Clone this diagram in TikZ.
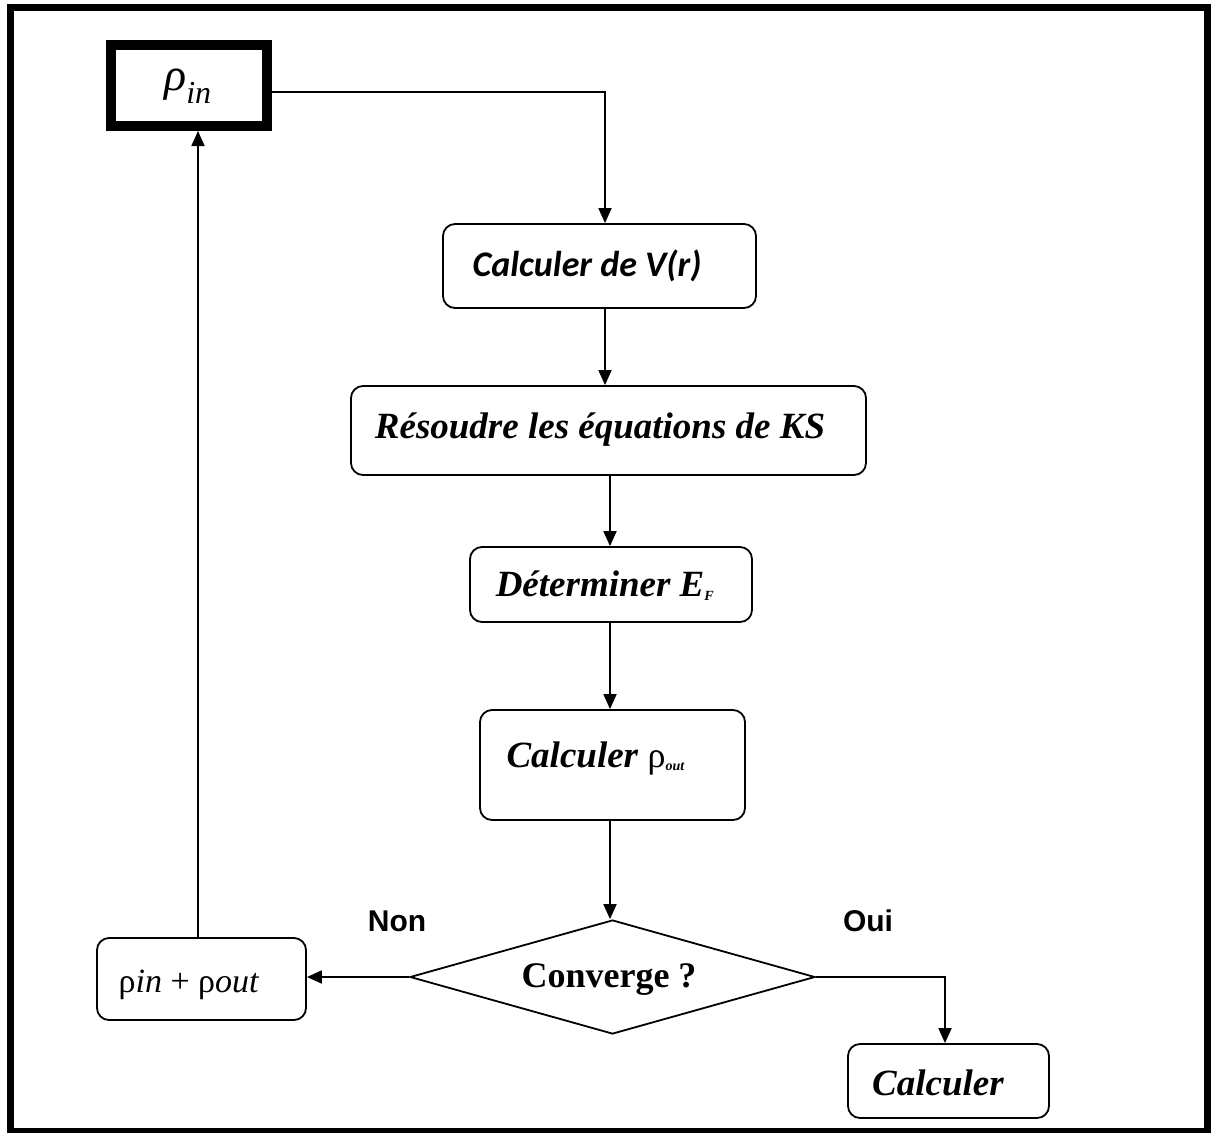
\documentclass[tikz,border=0pt]{standalone}
\usepackage{fontspec}
\setmainfont{Liberation Serif}
\newfontfamily\calfont{Carlito}
\newfontfamily\arialfont{Liberation Sans}
\usetikzlibrary{shapes.geometric,arrows.meta}
\begin{document}
\begin{tikzpicture}[x=1pt,y=-1pt,
  box/.style={draw,rounded corners=12pt,line width=1.8pt,inner sep=0pt},
  arr/.style={line width=1.8pt,-{Triangle[length=15pt,width=13pt]}},
  ser/.style={font=\fontsize{37}{40}\selectfont\bfseries\itshape},
  lab/.style={font=\fontsize{30}{34}\selectfont\arialfont\bfseries}]
\useasboundingbox (0,0) rectangle (1211,1133);
\draw[line width=7pt] (10.5,7.5) rectangle (1207.5,1131.5);
% nodes
\node[draw,line width=10pt,minimum width=156pt,minimum height=81pt,inner sep=0pt] (rin) at (189,85.5) {};
\node[font=\fontsize{46}{48}\selectfont\itshape] (rintxt) at (188,86) {ρ\textsubscript{\fontsize{32}{34}\selectfont in}};
\node[box,minimum width=313pt,minimum height=84pt] (vr) at (599.5,266) {};
\node[font=\fontsize{36}{38}\selectfont\calfont\bfseries\itshape] (vrtxt) at (587,266) {Calculer de V(r)};
\node[box,minimum width=515pt,minimum height=89pt] (ks) at (608.5,430.5) {};
\node[ser] (kstxt) at (600,430) {Résoudre les équations de KS};
\node[box,minimum width=282pt,minimum height=75pt] (ef) at (611,584.5) {};
\node[ser] (eftxt) at (605,586) {Déterminer E\textsubscript{\fontsize{14}{14}\selectfont F}};
\node[box,minimum width=265pt,minimum height=110pt] (rout) at (612.5,765) {};
\node[ser,anchor=west] (routtxt) at (503,758) {Calculer \textup{\mdseries\fontsize{36}{36}\selectfont ρ}\textsubscript{\fontsize{14}{14}\selectfont out}};
\node[draw,diamond,line width=1.8pt,minimum width=405pt,minimum height=114pt,inner sep=0pt,aspect=3.55] (conv) at (612.5,977) {};
\node[font=\fontsize{36}{38}\selectfont\bfseries] (convtxt) at (609,980) {Converge ?};
\node[box,minimum width=209pt,minimum height=82pt] (sum) at (201.5,979) {};
\node[font=\fontsize{34}{36}\selectfont] (sumtxt) at (189,985) {ρ\textit{in} + ρ\textit{out}};
\node[box,minimum width=201pt,minimum height=74pt] (calc) at (948.5,1081) {};
\node[ser] (calctxt) at (938,1083) {Calculer};
\node[lab] (non) at (397,921) {Non};
\node[lab] (oui) at (868,921) {Oui};
% connectors
\coordinate (x1) at (605,92);
\coordinate (x2) at (198,0);
\coordinate (x3) at (945,0);
\coordinate (x4) at (610,0);
\draw[arr] (rin.east |- x1) -| (vr.north -| x1);
\draw[arr] (vr.south -| x1) -- (ks.north -| x1);
\draw[arr] (ks.south -| x4) -- (ef.north -| x4);
\draw[arr] (ef.south -| x4) -- (rout.north -| x4);
\draw[arr] (rout.south -| x4) -- (conv.north -| x4);
\draw[arr] (conv.west) -- (sum.east |- conv.west);
\draw[arr] (sum.north -| x2) -- (rin.south -| x2);
\draw[arr] (conv.east) -| (calc.north -| x3);
\end{tikzpicture}
\end{document}
